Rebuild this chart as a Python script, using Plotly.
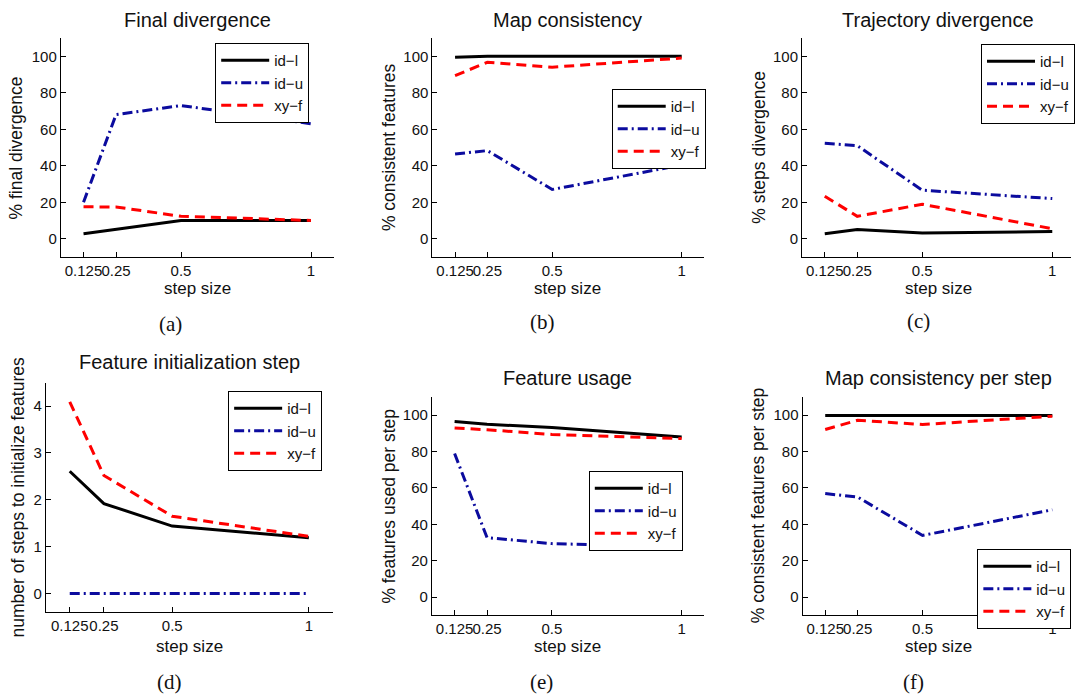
import plotly.graph_objects as go

# ---------------- data ----------------
step_sizes = [0.125, 0.25, 0.5, 1]
x_tick_vals = [0.125, 0.25, 0.5, 1]
x_tick_text = ["0.125", "0.25", "0.5", "1"]
pct_tick_vals = [0, 20, 40, 60, 80, 100]
init_tick_vals = [0, 1, 2, 3, 4]

series_names = ["id\u2212l", "id\u2212u", "xy\u2212f"]

final_div_idl = [2.8, 5.3, 10, 10]
final_div_idu = [20, 68, 73, 63]
final_div_xyf = [17.5, 17.4, 12.3, 10]

map_cons_idl = [99.5, 100, 100, 100]
map_cons_idu = [46.4, 48.3, 27, 40.4]
map_cons_xyf = [89.4, 96.7, 94, 99]

traj_div_idl = [2.8, 5, 3.1, 4]
traj_div_idu = [52.3, 51, 26.6, 22]
traj_div_xyf = [23.3, 12.3, 18.9, 5.5]

feat_init_idl = [2.61, 1.92, 1.44, 1.19]
feat_init_idu = [0, 0, 0, 0]
feat_init_xyf = [4.09, 2.52, 1.65, 1.22]

feat_usage_idl = [96.5, 95, 93.2, 88]
feat_usage_idu = [78.9, 32.7, 29.4, 27.5]
feat_usage_xyf = [93, 92, 89.4, 87.2]

map_step_idl = [99.8, 99.8, 100, 99.8]
map_step_idu = [56.9, 55, 33.9, 48]
map_step_xyf = [92.1, 97.2, 94.9, 99.4]

titles = ["Final divergence", "Map consistency", "Trajectory divergence",
          "Feature initialization step", "Feature usage", "Map consistency per step"]
ylabels = ["% final divergence", "% consistent features", "% steps divergence",
           "number of steps to initialize features", "% features used per step",
           "% consistent features per step"]
xlabel = "step size"
sublabels = ["(a)", "(b)", "(c)", "(d)", "(e)", "(f)"]

panel_data = [
    (final_div_idl, final_div_idu, final_div_xyf),
    (map_cons_idl, map_cons_idu, map_cons_xyf),
    (traj_div_idl, traj_div_idu, traj_div_xyf),
    (feat_init_idl, feat_init_idu, feat_init_xyf),
    (feat_usage_idl, feat_usage_idu, feat_usage_xyf),
    (map_step_idl, map_step_idu, map_step_xyf),
]

# ---------------- layout geometry (pixels) ----------------
W, H = 1075, 697
# left, right, top, bottom of each axes box
boxes = [
    (61, 335, 38, 257),
    (434, 707, 38, 257),
    (805, 1075, 38, 257),
    (46, 334, 382.7, 612.3),
    (433.5, 707, 397, 615.3),
    (805.5, 1075, 397, 615.3),
]
x_ranges = [
    [0.0375, 1.0875], [0.0375, 1.0875], [0.0375, 1.072],
    [0.0375, 1.0875], [0.0375, 1.0875], [0.0375, 1.072],
]
y_ranges = [[-10, 110], [-10, 110], [-10, 110], [-0.4, 4.5], [-10, 110], [-10, 110]]
y_ticks = [pct_tick_vals, pct_tick_vals, pct_tick_vals, init_tick_vals, pct_tick_vals, pct_tick_vals]
title_pos = [(198, 20), (570, 20), (942, 20), (190, 362), (570, 378), (942, 378)]
ylabel_pos = [(16, 147.5), (390, 147.5), (761, 147.5), (18, 497.5), (390, 506), (761, 506)]
xlabel_pos = [(198, 288), (570, 288), (942, 288), (190, 646), (570, 646.5), (942, 646)]
sub_pos = [(171, 324), (545, 322), (922, 321), (170, 682), (544, 682), (917, 682)]
legend_pos = [(216, 43), (614, 89), (985, 44), (229, 391), (591, 471), (981, 549)]

styles = [
    dict(color="black", width=3, dash="solid"),
    dict(color="#0b0b9e", width=3, dash="10px,4px,2px,4px"),
    dict(color="#ff0000", width=3, dash="10px,6px"),
]

FONT = "Liberation Sans, Arial, Helvetica, sans-serif"
SERIF = "Liberation Serif, Times New Roman, serif"

fig = go.Figure()
layout = dict(
    width=W, height=H,
    margin=dict(l=0, r=0, t=0, b=0),
    paper_bgcolor="white", plot_bgcolor="white",
    template="none",
    font=dict(family=FONT, size=15, color="#111"),
    showlegend=True,
)
annotations = []

for i, (data, box) in enumerate(zip(panel_data, boxes)):
    k = i + 1
    xa = "x" if k == 1 else f"x{k}"
    ya = "y" if k == 1 else f"y{k}"
    lg = "legend" if k == 1 else f"legend{k}"
    for name, vals, st in zip(series_names, data, styles):
        fig.add_trace(go.Scatter(
            x=step_sizes, y=vals, mode="lines", name=name,
            line=st, xaxis=xa, yaxis=ya, legend=lg,
        ))
    l, r, t, b = box
    layout[f"xaxis{'' if k == 1 else k}"] = dict(
        domain=[l / W, r / W], anchor=ya, range=x_ranges[i],
        tickvals=x_tick_vals, ticktext=x_tick_text, tickangle=0,
        ticks="inside", ticklen=5, tickcolor="black", showline=True,
        linecolor="black", linewidth=1, showgrid=False, zeroline=False,
        tickfont=dict(family=FONT, size=15, color="#111"),
    )
    layout[f"yaxis{'' if k == 1 else k}"] = dict(
        domain=[1 - b / H, 1 - t / H], anchor=xa, range=y_ranges[i],
        tickvals=y_ticks[i], ticks="inside", ticklen=5, tickcolor="black",
        showline=True, linecolor="black", linewidth=1, showgrid=False,
        zeroline=False, tickfont=dict(family=FONT, size=15, color="#111"),
    )
    lx, ly = legend_pos[i]
    layout[lg] = dict(
        x=lx / W, y=1 - ly / H, xanchor="left", yanchor="top",
        xref="paper", yref="paper",
        bgcolor="white", bordercolor="black", borderwidth=1,
        font=dict(family=FONT, size=15, color="#111"),
        itemwidth=48, tracegroupgap=0,
    )
    tx, ty = title_pos[i]
    annotations.append(dict(text=titles[i], x=tx / W, y=1 - ty / H, xref="paper", yref="paper",
                            showarrow=False, xanchor="center", yanchor="middle",
                            font=dict(family=FONT, size=20, color="#111")))
    yx, yy = ylabel_pos[i]
    annotations.append(dict(text=ylabels[i], x=yx / W, y=1 - yy / H, xref="paper", yref="paper",
                            showarrow=False, xanchor="center", yanchor="middle", textangle=-90,
                            font=dict(family=FONT, size=17.5, color="#111")))
    xx, xy = xlabel_pos[i]
    annotations.append(dict(text=xlabel, x=xx / W, y=1 - xy / H, xref="paper", yref="paper",
                            showarrow=False, xanchor="center", yanchor="middle",
                            font=dict(family=FONT, size=17, color="#111")))
    sx, sy = sub_pos[i]
    annotations.append(dict(text=sublabels[i], x=sx / W, y=1 - sy / H, xref="paper", yref="paper",
                            showarrow=False, xanchor="center", yanchor="middle",
                            font=dict(family=SERIF, size=21, color="#111")))

layout["annotations"] = annotations
fig.update_layout(**layout)
fig.write_html(
    "out.html",
    config={"displayModeBar": False},
    post_script="document.body.style.margin='0';document.body.style.padding='0';"
                "document.documentElement.style.overflow='hidden';",
)
